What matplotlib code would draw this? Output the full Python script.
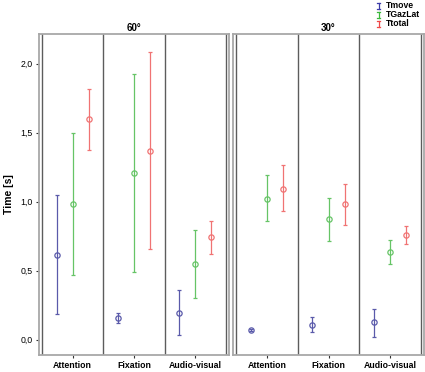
import numpy as np
import matplotlib
matplotlib.use("Agg")
import matplotlib.pyplot as plt
from matplotlib.lines import Line2D
from matplotlib.ticker import FuncFormatter

plt.rcParams['font.family'] = ['Liberation Sans', 'DejaVu Sans']

# data: mean, lower and upper end of each bar
conditions = ['Attention', 'Fixation', 'Audio-visual']
series = ['Tmove', 'TGazLat', 'Ttotal']
colors = ['#5a5aaa', '#66c466', '#f07373']
legendColors = ['#3c3ca8', '#3cb83c', '#f04848']

angles = ['60°', '30°']

mean60 = [[0.616, 0.159, 0.197],   # Tmove
          [0.985, 1.208, 0.547],   # TGazLat
          [1.600, 1.367, 0.744]]   # Ttotal
low60 = [[0.188, 0.123, 0.031],
         [0.470, 0.489, 0.300],
         [1.377, 0.655, 0.623]]
high60 = [[1.045, 0.197, 0.361],
          [1.500, 1.925, 0.794],
          [1.820, 2.082, 0.861]]

mean30 = [[0.072, 0.110, 0.125],
          [1.023, 0.874, 0.638],
          [1.095, 0.980, 0.758]]
low30 = [[0.066, 0.053, 0.022],
         [0.859, 0.713, 0.551],
         [0.929, 0.828, 0.691]]
high30 = [[0.078, 0.164, 0.222],
          [1.190, 1.030, 0.722],
          [1.264, 1.131, 0.825]]

panels = [(mean60, low60, high60), (mean30, low30, high30)]

fig = plt.figure(figsize=(4.25, 3.72), dpi=100)
axLeft = fig.add_axes([39 / 425, 1 - 355 / 372, 190 / 425, 321.5 / 372])
axRight = fig.add_axes([233 / 425, 1 - 355 / 372, 191 / 425, 321.5 / 372])

offsets = [-0.26, 0.0, 0.26]
groupX = np.arange(len(conditions)) + 0.5

for ax, angle, (means, lows, highs) in zip([axLeft, axRight], angles, panels):
    for k in range(len(series)):
        m = np.array(means[k])
        lo = np.array(lows[k])
        hi = np.array(highs[k])
        ax.errorbar(groupX + offsets[k], m, yerr=[m - lo, hi - m],
                    fmt='o', color=colors[k], markersize=3.8,
                    markerfacecolor='none', markeredgewidth=0.9,
                    elinewidth=0.9, capsize=1.6, capthick=0.9)

    # sub-panel dividers and inner frame lines
    for xv in range(len(conditions) + 1):
        ax.axvline(xv, color='#5c5c5c', lw=1.0)

    ax.set_xlim(-0.05, 3.05)
    ax.set_ylim(-0.111, 2.219)
    ax.set_xticks(groupX)
    ax.set_xticklabels(conditions, fontsize=6.3, fontweight='bold')
    ax.tick_params(axis='x', length=2.5, width=0.8, color='#333333', pad=1.5)
    for sp in ax.spines.values():
        sp.set_color('#a8a8a8')
        sp.set_linewidth(1.3)
    ax.set_title(angle, fontsize=7, fontweight='bold', pad=2)

axLeft.set_yticks([0.0, 0.5, 1.0, 1.5, 2.0])
axLeft.yaxis.set_major_formatter(FuncFormatter(lambda v, p: f'{v:.1f}'.replace('.', ',')))
axLeft.tick_params(axis='y', length=2.5, width=0.8, color='#333333', labelsize=6.3, pad=2)
axLeft.set_ylabel('Time [s]', fontsize=7.5, fontweight='bold', labelpad=5)
axRight.set_yticks([])

# legend in the top right corner
for k, name in enumerate(series):
    yc = 1 - (5.5 + 9 * k) / 372
    xc = 378.5 / 425
    dy = 3 / 372
    dx = 1.3 / 425
    fig.add_artist(Line2D([xc, xc], [yc - dy, yc + dy], color=legendColors[k], lw=0.9))
    fig.add_artist(Line2D([xc - dx, xc + dx], [yc + dy, yc + dy], color=legendColors[k], lw=0.9))
    fig.add_artist(Line2D([xc - dx, xc + dx], [yc - dy, yc - dy], color=legendColors[k], lw=0.9))
    fig.text(386 / 425, yc, name, fontsize=6.2, fontweight='bold', va='center', ha='left')

fig.savefig('out.png', dpi=100)
